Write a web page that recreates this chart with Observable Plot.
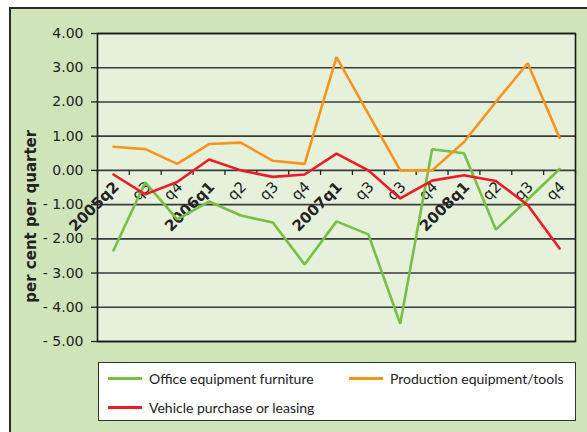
<!DOCTYPE html>
<html>
<head>
<meta charset="utf-8">
<script src="https://cdn.jsdelivr.net/npm/d3@7"></script>
<script src="https://cdn.jsdelivr.net/npm/@observablehq/plot@0.6"></script>
<style>
  html, body { margin: 0; padding: 0; background: #ffffff; width: 587px; height: 432px; overflow: hidden; }
  #frame { position: absolute; left: 9px; top: 7px; width: 600px; height: 440px; box-sizing: border-box;
           border: 2px solid #2b2b2b; background: #cfe5b9; }
  #chart { position: absolute; left: 0; top: 0; }
  #legend { position: absolute; left: 98px; top: 362px; width: 478px; height: 59px; box-sizing: border-box;
            background: #ffffff; border: 1px solid #333; font-family: Lato, sans-serif; font-size: 14px; color: #222; }
  .item { position: absolute; display: flex; align-items: center; white-space: nowrap; }
  .sw { width: 34px; height: 3px; margin-right: 7px; }
</style>
</head>
<body>
<div id="frame"></div>
<div id="chart"></div>
<div id="legend"></div>
<script>
const labels = ["2005q2","q3","q4","2006q1","q2","q3","q4","2007q1","q3","q3","q4","2008q1","q2","q3","q4"];
const office = [-2.34,-0.35,-1.43,-0.91,-1.32,-1.52,-2.75,-1.49,-1.87,-4.48,0.62,0.50,-1.73,-0.85,0.04];
const production = [0.69,0.62,0.19,0.77,0.81,0.28,0.19,3.31,1.65,0.00,0.00,0.83,2.00,3.13,0.95];
const vehicle = [-0.12,-0.70,-0.34,0.32,0.00,-0.19,-0.12,0.49,0.00,-0.82,-0.30,-0.14,-0.31,-1.01,-2.28];
const seriesNames = ["Office equipment furniture","Production equipment/tools","Vehicle purchase or leasing"];
const seriesColors = ["#77bf45","#f7941d","#ed1c24"];
const yTicks = [-5,-4,-3,-2,-1,0,1,2,3,4];
const yTitle = "per cent per quarter";

const seriesValues = [office, production, vehicle];
const rows = seriesValues.flatMap((vals, s) => vals.map((v, i) => ({series: seriesNames[s], i: i + 0.5, v})));
const boundaries = d3.range(labels.length + 1);
const labelRows = labels.map((t, i) => ({t, i: i + 0.5, bold: /^\d/.test(t)}));

const fmt = d => d < 0 ? "- " + Math.abs(d).toFixed(2) : d.toFixed(2);
const axisFont = "'DejaVu Sans', sans-serif";

const plot = Plot.plot({
  width: 587,
  height: 355,
  marginLeft: 97,
  marginRight: 12,
  marginTop: 33,
  marginBottom: 14,
  style: {background: "transparent", fontFamily: axisFont, color: "#222"},
  x: {domain: [0, labels.length], axis: null},
  y: {domain: [-5, 4], axis: null},
  color: {domain: seriesNames, range: seriesColors},
  marks: [
    Plot.frame({fill: "#e6f1dc", stroke: null}),
    Plot.ruleY(yTicks, {stroke: "#3a3a3a", strokeWidth: 1.6}),
    Plot.ruleX(boundaries, {y1: 0, y2: -0.15, stroke: "#222", strokeWidth: 1.3}),
    Plot.frame({stroke: "#1a1a1a", strokeWidth: 1.6}),
    Plot.axisY({ticks: yTicks, tickFormat: fmt, tickSize: 6, tickPadding: 8, fontSize: 14, stroke: "#222", strokeWidth: 1.3, label: null}),
    Plot.text([yTitle], {x: () => -2.08, y: () => -1.34, text: d => d, rotate: -90, textAnchor: "middle", lineAnchor: "middle", fontSize: 15, fontWeight: "bold", fill: "#222", clip: false}),
    Plot.text(labelRows.filter(d => d.bold), {x: "i", y: () => 0, text: "t", rotate: -45, textAnchor: "end", dx: 3, dy: 14, fontSize: 15, fontWeight: "bold", fill: "#222"}),
    Plot.text(labelRows.filter(d => !d.bold), {x: "i", y: () => 0, text: "t", rotate: -45, textAnchor: "end", dx: 3, dy: 14, fontSize: 15, fill: "#222"}),
    Plot.line(rows, {x: "i", y: "v", z: "series", stroke: "series", strokeWidth: 2.6, strokeLinejoin: "miter"})
  ]
});
document.getElementById("chart").appendChild(plot);

const legend = document.getElementById("legend");
const pos = [[9, 15], [250, 15], [9, 44]];
seriesNames.forEach((name, k) => {
  const it = document.createElement("div");
  it.className = "item";
  it.style.left = pos[k][0] + "px";
  it.style.top = (pos[k][1] - 9) + "px";
  it.style.height = "18px";
  const sw = document.createElement("div");
  sw.className = "sw";
  sw.style.background = seriesColors[k];
  const tx = document.createElement("span");
  tx.textContent = name;
  it.appendChild(sw);
  it.appendChild(tx);
  legend.appendChild(it);
});
</script>
</body>
</html>
